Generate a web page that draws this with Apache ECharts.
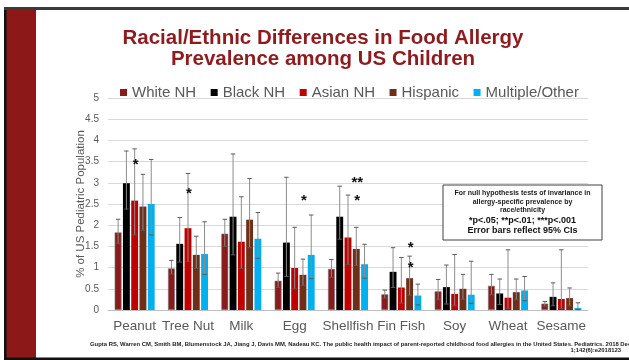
<!DOCTYPE html>
<html>
<head>
<meta charset="utf-8">
<script src="https://cdn.jsdelivr.net/npm/echarts@6/dist/echarts.min.js"></script>
<style>
  html, body { margin: 0; padding: 0; background: #ffffff; }
  #chart { width: 629px; height: 360px; }
</style>
</head>
<body>
<div id="chart"></div>
<script>
// Food allergy prevalence (% of US children) by race/ethnicity, with 95% CIs
const categories = ['Peanut', 'Tree Nut', 'Milk', 'Egg', 'Shellfish', 'Fin Fish', 'Soy', 'Wheat', 'Sesame'];
const groupNames = ['White NH', 'Black NH', 'Asian NH', 'Hispanic', 'Multiple/Other'];

const whiteNH   = [1.83, 0.98, 1.80, 0.69, 0.97, 0.37, 0.44, 0.57, 0.15];
const whiteLow  = [1.57, 0.85, 1.50, 0.53, 0.77, 0.28, 0.24, 0.36, 0.09];
const whiteHigh = [2.14, 1.17, 2.14, 0.87, 1.19, 0.47, 0.72, 0.84, 0.20];

const blackNH   = [2.99, 1.56, 2.20, 1.59, 2.20, 0.90, 0.54, 0.39, 0.31];
const blackLow  = [2.38, 1.13, 1.30, 0.79, 1.67, 0.53, 0.14, 0.13, 0.10];
const blackHigh = [3.75, 2.18, 3.68, 3.13, 2.92, 1.47, 1.06, 0.73, 0.64];

const asianNH   = [2.58, 1.93, 1.61, 0.99, 1.71, 0.53, 0.38, 0.29, 0.26];
const asianLow  = [1.77, 1.14, 0.98, 0.50, 1.07, 0.16, 0.10, 0.04, 0.04];
const asianHigh = [3.80, 3.22, 2.67, 1.95, 2.71, 1.24, 1.31, 1.42, 1.42];

const hispanic  = [2.44, 1.30, 2.13, 0.83, 1.44, 0.75, 0.50, 0.42, 0.28];
const hispLow   = [1.88, 0.98, 1.47, 0.58, 1.05, 0.35, 0.25, 0.24, 0.10];
const hispHigh  = [3.20, 1.74, 3.10, 1.20, 1.95, 1.27, 0.84, 0.73, 0.52];

const multiple  = [2.50, 1.32, 1.68, 1.30, 1.08, 0.34, 0.36, 0.46, 0.05];
const multiLow  = [1.77, 0.84, 1.22, 0.74, 0.75, 0.12, 0.16, 0.22, 0.01];
const multiHigh = [3.55, 2.08, 2.30, 2.24, 1.55, 0.61, 1.15, 0.79, 0.17];

// significance markers: food, group index, height, marker
const starFoods  = ['Peanut', 'Tree Nut', 'Egg', 'Shellfish', 'Shellfish', 'Fin Fish', 'Fin Fish'];
const starGroups = [2, 2, 3, 3, 3, 3, 3];
const starValues = [3.52, 2.83, 2.66, 3.08, 2.66, 1.55, 1.09];
const starMarks  = ['*', '*', '*', '**', '*', '*', '*'];

const yTicks = { min: 0, max: 5, interval: 0.5 };

const groupValues = [whiteNH, blackNH, asianNH, hispanic, multiple];
const groupLows   = [whiteLow, blackLow, asianLow, hispLow, multiLow];
const groupHighs  = [whiteHigh, blackHigh, asianHigh, hispHigh, multiHigh];
const groupColors = ['#8B1A1A', '#000000', '#C00000', '#6E2F19', '#00B0F0'];

const FONT = '"Liberation Sans", Arial, Helvetica, sans-serif';
const CAT_GAP = 0.25, BAR_GAP = 0.2, NGROUPS = groupNames.length;

// centre offset of a group's bar inside its category band
function barOffset(bandWidth, g) {
  const groupW = bandWidth * (1 - CAT_GAP);
  const barW = groupW / (NGROUPS + (NGROUPS - 1) * BAR_GAP);
  return { off: -groupW / 2 + g * barW * (1 + BAR_GAP) + barW / 2, barW: barW };
}

const errorData = [];
groupNames.forEach((_, g) => {
  categories.forEach((_, c) => {
    errorData.push([c, g, groupLows[g][c], groupHighs[g][c]]);
  });
});

const starData = starFoods.map((f, i) => [categories.indexOf(f), starGroups[i], starValues[i], starMarks[i]]);

const barSeries = groupNames.map((name, g) => ({
  name: name,
  type: 'bar',
  data: groupValues[g],
  barGap: (BAR_GAP * 100) + '%',
  barCategoryGap: (CAT_GAP * 100) + '%',
  itemStyle: g === 0
    ? { color: groupColors[g], borderColor: '#7f7f7f', borderWidth: 0.6 }
    : { color: groupColors[g] },
  z: 2
}));

const errorSeries = {
  type: 'custom',
  name: 'ci',
  data: errorData,
  z: 5,
  silent: true,
  renderItem: function (params, api) {
    const c = api.value(0), g = api.value(1);
    const lo = api.coord([c, api.value(2)]);
    const hi = api.coord([c, api.value(3)]);
    const band = api.size([1, 0])[0];
    const x = lo[0] + barOffset(band, g).off;
    const cap = 2.2;
    return {
      type: 'group',
      children: [
        { type: 'line', shape: { x1: x, y1: lo[1], x2: x, y2: hi[1] }, style: { stroke: '#8c8c8c', lineWidth: 1 } },
        { type: 'line', shape: { x1: x - cap, y1: hi[1], x2: x + cap, y2: hi[1] }, style: { stroke: '#5a5a5a', lineWidth: 1 } },
        { type: 'line', shape: { x1: x - cap, y1: lo[1], x2: x + cap, y2: lo[1] }, style: { stroke: '#5a5a5a', lineWidth: 1 } }
      ]
    };
  }
};

const starSeries = {
  type: 'custom',
  name: 'sig',
  data: starData,
  z: 6,
  silent: true,
  renderItem: function (params, api) {
    const c = api.value(0), g = api.value(1);
    const p = api.coord([c, api.value(2)]);
    const band = api.size([1, 0])[0];
    const x = p[0] + barOffset(band, g).off + 1;
    return {
      type: 'text',
      style: {
        x: x, y: p[1] + 3.8,
        text: starData[params.dataIndex][3],
        fill: '#111111',
        font: 'bold 15px ' + FONT,
        align: 'center', verticalAlign: 'middle'
      }
    };
  }
};

const chart = echarts.init(document.getElementById('chart'), null, { renderer: 'canvas' });

chart.setOption({
  backgroundColor: '#ffffff',
  animation: false,
  color: groupColors,
  legend: {
    data: groupNames,
    left: 115,
    top: 80,
    itemWidth: 7,
    itemHeight: 7,
    itemGap: 14.5,
    icon: 'rect',
    textStyle: { fontFamily: FONT, fontSize: 15, color: '#595959', padding: [0, 0, 0, 0] },
    itemStyle: { borderWidth: 0 }
  },
  grid: { left: 108, right: 41, top: 98, bottom: 50, containLabel: false },
  xAxis: {
    type: 'category',
    data: categories,
    axisTick: { show: false },
    axisLine: { lineStyle: { color: '#bfbfbf', width: 1 } },
    axisLabel: { fontFamily: FONT, fontSize: 13.5, color: '#595959', margin: 9, interval: 0 },
    splitLine: { show: false }
  },
  yAxis: {
    type: 'value',
    min: yTicks.min,
    max: yTicks.max,
    interval: yTicks.interval,
    name: '% of US Pediatric Population',
    nameLocation: 'middle',
    nameGap: 21,
    nameMoveOverlap: false,
    nameTextStyle: { fontFamily: FONT, fontSize: 11.5, color: '#595959' },
    axisLine: { show: false },
    axisTick: { show: false },
    axisLabel: { fontFamily: FONT, fontSize: 10, color: '#595959', margin: 9 },
    splitLine: { lineStyle: { color: '#d9d9d9', width: 1 } }
  },
  series: barSeries.concat([errorSeries, starSeries]),
  graphic: [
    // slide frame and side band
    { type: 'rect', z: 1, shape: { x: 6, y: 9, width: 30, height: 349 }, style: { fill: '#8C1818' } },
    { type: 'rect', z: 1, shape: { x: 4, y: 7, width: 2.5, height: 353 }, style: { fill: '#111111' } },
    { type: 'rect', z: 1, shape: { x: 4, y: 7, width: 625, height: 3 }, style: { fill: '#3a3a3a' } },
    { type: 'rect', z: 1, shape: { x: 4, y: 357.5, width: 625, height: 2.5 }, style: { fill: '#111111' } },
    // heading
    { type: 'text', z: 3, style: { x: 323, y: 38, text: 'Racial/Ethnic Differences in Food Allergy', fill: '#8E1B1D', font: 'bold 20.5px ' + FONT, align: 'center', verticalAlign: 'middle' } },
    { type: 'text', z: 3, style: { x: 323, y: 59.5, text: 'Prevalence among US Children', fill: '#8E1B1D', font: 'bold 20.5px ' + FONT, align: 'center', verticalAlign: 'middle' } },
    // note box
    { type: 'rect', z: 10, shape: { x: 443, y: 185, width: 159, height: 55 }, style: { fill: '#ffffff', stroke: '#404040', lineWidth: 1 } },
    { type: 'text', z: 11, style: { x: 522.5, y: 193.2, text: 'For null hypothesis tests of invariance in', fill: '#1a1a1a', font: 'bold 7px ' + FONT, align: 'center', verticalAlign: 'middle' } },
    { type: 'text', z: 11, style: { x: 522.5, y: 201.8, text: 'allergy-specific prevalence by', fill: '#1a1a1a', font: 'bold 7px ' + FONT, align: 'center', verticalAlign: 'middle' } },
    { type: 'text', z: 11, style: { x: 522.5, y: 210.2, text: 'race/ethnicity', fill: '#1a1a1a', font: 'bold 7px ' + FONT, align: 'center', verticalAlign: 'middle' } },
    { type: 'text', z: 11, style: { x: 522.5, y: 220.5, text: '*p<.05; **p<.01; ***p<.001', fill: '#111111', font: 'bold 9px ' + FONT, align: 'center', verticalAlign: 'middle' } },
    { type: 'text', z: 11, style: { x: 522.5, y: 231, text: 'Error bars reflect 95% CIs', fill: '#111111', font: 'bold 9px ' + FONT, align: 'center', verticalAlign: 'middle' } },
    // citation
    { type: 'text', z: 3, style: { x: 90, y: 344.5, text: 'Gupta RS, Warren CM, Smith BM, Blumenstock JA, Jiang J, Davis MM, Nadeau KC. The public health impact of parent-reported childhood food allergies in the United States. Pediatrics. 2018 Dec', fill: '#222222', font: 'bold 5.9px ' + FONT, align: 'left', verticalAlign: 'middle' } },
    { type: 'text', z: 3, style: { x: 621, y: 350, text: '1;142(6):e2018123', fill: '#222222', font: 'bold 5.9px ' + FONT, align: 'right', verticalAlign: 'middle' } }
  ]
});
</script>
</body>
</html>
